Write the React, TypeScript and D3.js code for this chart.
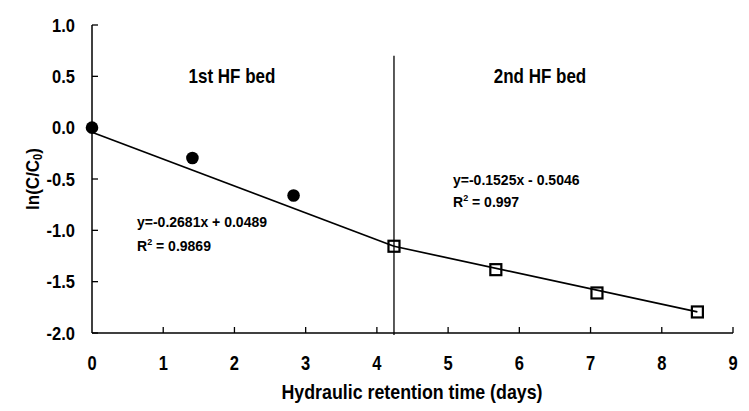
import * as d3 from 'd3'

const bed1X = [0, 1.41, 2.83]
const bed1Y = [0, -0.295, -0.66]
const bed2X = [4.24, 5.67, 7.09, 8.5]
const bed2Y = [-1.155, -1.383, -1.61, -1.795]

// trend lines as drawn
const fit1X = [0, 4.24]
const fit1Y = [-0.045, -1.155]
const fit2X = [4.24, 8.5]
const fit2Y = [-1.155, -1.795]

const dividerX = 4.24
const dividerSpan = [0.7, -2.02]

const xTicks = [0, 1, 2, 3, 4, 5, 6, 7, 8, 9]
const yTicks = [1.0, 0.5, 0.0, -0.5, -1.0, -1.5, -2.0]

const W = 749
const H = 411
const FONT = '"Liberation Sans", Arial, sans-serif'

const fmtY = (v: number) => d3.format('.1f')(v).replace('\u2212', '-')

export default function App() {
  const x = d3.scaleLinear().domain([0, 9]).range([92, 733])
  const y = d3.scaleLinear().domain([-2, 1]).range([333, 25])

  const line = d3
    .line<[number, number]>()
    .x(d => x(d[0]))
    .y(d => y(d[1]))

  const fit1 = fit1X.map((v, i) => [v, fit1Y[i]] as [number, number])
  const fit2 = fit2X.map((v, i) => [v, fit2Y[i]] as [number, number])

  const txt = (
    px: number,
    py: number,
    size: number,
    sy: number,
    anchor: 'start' | 'middle' | 'end',
    content: React.ReactNode,
    sx = 1
  ) => (
    <text
      transform={`translate(${px},${py}) scale(${sx},${sy})`}
      fontFamily={FONT}
      fontWeight="bold"
      fontSize={size}
      textAnchor={anchor}
      fill="#000"
    >
      {content}
    </text>
  )

  return (
    <svg
      width={W}
      height={H}
      style={{ position: 'absolute', left: 0, top: 0, background: '#fff' }}
    >
      <rect width={W} height={H} fill="#fff" />

      {/* axes */}
      <line x1={x(0)} x2={x(0)} y1={y(1)} y2={y(-2)} stroke="#000" strokeWidth={1.5} />
      <line x1={x(0)} x2={x(9)} y1={y(-2)} y2={y(-2)} stroke="#000" strokeWidth={1.5} />
      {yTicks.map(t => (
        <line key={'yt' + t} x1={x(0)} x2={x(0) + 6} y1={y(t)} y2={y(t)} stroke="#000" strokeWidth={1.3} />
      ))}
      {xTicks.slice(1).map(t => (
        <line key={'xt' + t} x1={x(t)} x2={x(t)} y1={y(-2)} y2={y(-2) - 6} stroke="#000" strokeWidth={1.3} />
      ))}
      {yTicks.map(t => (
        <g key={'yl' + t}>{txt(75, y(t) + 6.7, 16.5, 1.15, 'end', fmtY(t))}</g>
      ))}
      {xTicks.map(t => (
        <g key={'xl' + t}>{txt(x(t), 370, 16.5, 1.25, 'middle', String(t))}</g>
      ))}

      {/* axis titles */}
      {txt(412, 399, 17.8, 1.1, 'middle', 'Hydraulic retention time (days)')}
      <text
        transform={`translate(39,179) rotate(-90) scale(1,1.1)`}
        fontFamily={FONT}
        fontWeight="bold"
        fontSize={17}
        textAnchor="middle"
      >
        ln(C/C<tspan fontSize={11} dy={3}>0</tspan>
        <tspan dy={-3}>)</tspan>
      </text>

      {/* divider */}
      <line
        x1={x(dividerX)}
        x2={x(dividerX)}
        y1={y(dividerSpan[0])}
        y2={y(dividerSpan[1])}
        stroke="#000"
        strokeWidth={1.3}
      />

      {/* trend lines */}
      <path d={line(fit1) ?? ''} fill="none" stroke="#000" strokeWidth={1.7} />
      <path d={line(fit2) ?? ''} fill="none" stroke="#000" strokeWidth={1.7} />

      {/* markers */}
      {bed1X.map((v, i) => (
        <circle key={'c' + i} cx={x(v)} cy={y(bed1Y[i])} r={6.3} fill="#000" />
      ))}
      {bed2X.map((v, i) => (
        <rect
          key={'s' + i}
          x={x(v) - 5.5}
          y={y(bed2Y[i]) - 5.5}
          width={11}
          height={11}
          fill="none"
          stroke="#000"
          strokeWidth={2.2}
        />
      ))}

      {/* annotations */}
      {txt(232, 83, 17, 1.18, 'middle', '1st HF bed')}
      {txt(540, 83, 17, 1.18, 'middle', '2nd HF bed')}
      {txt(137, 227, 14, 1.0, 'start', 'y=-0.2681x + 0.0489')}
      {txt(137, 251, 14, 1.0, 'start', <>R<tspan fontSize={9} dy={-6}>2</tspan><tspan dy={6}> = 0.9869</tspan></>)}
      {txt(453, 185, 14, 1.0, 'start', 'y=-0.1525x - 0.5046')}
      {txt(453, 207, 14, 1.0, 'start', <>R<tspan fontSize={9} dy={-6}>2</tspan><tspan dy={6}> = 0.997</tspan></>)}
    </svg>
  )
}
